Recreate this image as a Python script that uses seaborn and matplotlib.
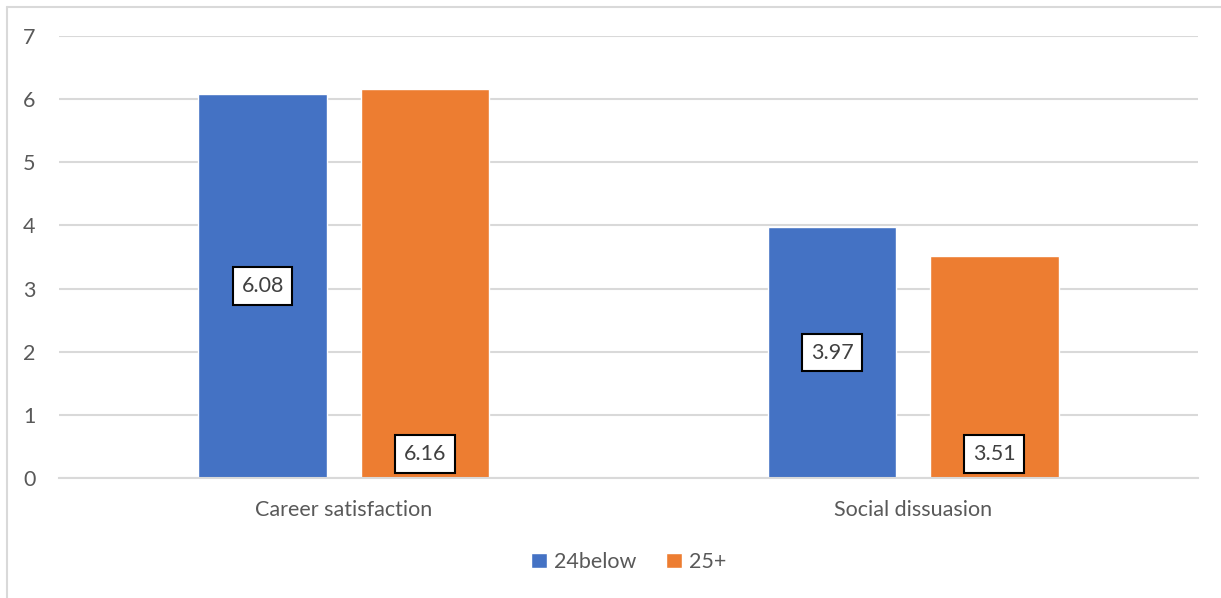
import matplotlib
matplotlib.use("Agg")
import matplotlib.pyplot as plt
from matplotlib.lines import Line2D
import seaborn as sns
import pandas as pd

categories = ["Career satisfaction", "Social dissuasion"]
groups = ["24below", "25+"]
values_24below = [6.08, 3.97]
values_25plus = [6.16, 3.51]
y_ticks = [0, 1, 2, 3, 4, 5, 6, 7]

df = pd.DataFrame({
    "category": categories * 2,
    "group": [groups[0]] * 2 + [groups[1]] * 2,
    "value": values_24below + values_25plus,
})

sns.set_theme(style="white")
plt.rcParams["font.family"] = ["Lato", "DejaVu Sans"]

W, H = 1221, 598
FS = 15.5
fig = plt.figure(figsize=(W / 100, H / 100), dpi=100)
ax = fig.add_axes([59 / W, 1 - 478 / H, (1198 - 59) / W, (478 - 36) / H])

palette = {"24below": "#4472C4", "25+": "#ED7D31"}
sns.barplot(data=df, x="category", y="value", hue="group", order=categories,
            hue_order=groups, palette=palette, width=0.57, gap=0.21,
            saturation=1, ax=ax, legend=True, err_kws={"linewidth": 0})

ax.set_xlim(-0.5, 1.5)
ax.set_ylim(0, 7)
ax.set_yticks(y_ticks)
ax.yaxis.grid(True, color="#D9D9D9", linewidth=1.5)
ax.set_axisbelow(True)
for s in ["top", "right", "left"]:
    ax.spines[s].set_visible(False)
ax.spines["bottom"].set_color("#D9D9D9")
ax.spines["bottom"].set_linewidth(1.5)
ax.tick_params(axis="both", length=0, labelsize=FS, labelcolor="#595959")
ax.tick_params(axis="y", pad=17)
ax.tick_params(axis="x", pad=16)
ax.set_xlabel("")
ax.set_ylabel("")

# value labels: first series centred in the bar, second series at the inside base
box = dict(boxstyle="square,pad=0.4", facecolor="white", edgecolor="black", linewidth=1.5)
containers = ax.containers
for rect, v in zip(containers[0], values_24below):
    ax.text(rect.get_x() + rect.get_width() / 2, v / 2, f"{v:.2f}", ha="center", va="center",
            fontsize=FS, color="#404040", bbox=box)
for rect, v in zip(containers[1], values_25plus):
    ax.text(rect.get_x() + rect.get_width() / 2, 0.38, f"{v:.2f}", ha="center", va="center",
            fontsize=FS, color="#404040", bbox=box)

leg = ax.legend(loc="center", bbox_to_anchor=(0.5, 1 - (562 - 36) / (478 - 36)), ncol=2,
                frameon=False, fontsize=FS, handlelength=0.75, handleheight=0.75,
                handletextpad=0.3, columnspacing=1.4)
for t in leg.get_texts():
    t.set_color("#595959")

# chart area border
fig.add_artist(Line2D([6.5 / W, 1.0], [1 - 6.5 / H, 1 - 6.5 / H], color="#D9D9D9", linewidth=1.5,
                      transform=fig.transFigure))
fig.add_artist(Line2D([6.5 / W, 6.5 / W], [0, 1 - 6.5 / H], color="#D9D9D9", linewidth=1.5,
                      transform=fig.transFigure))

fig.savefig("out.png", dpi=100)
